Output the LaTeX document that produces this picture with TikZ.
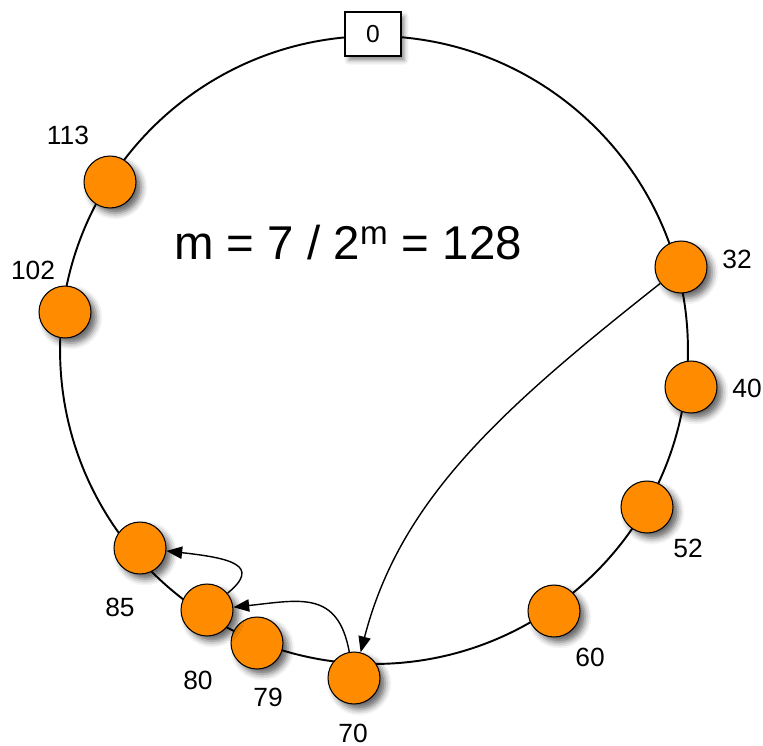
\documentclass[tikz,border=0pt]{standalone}
\usepackage{fontspec}
\setmainfont{Liberation Sans}
\usepackage{tikz}
\usetikzlibrary{arrows.meta,shadows.blur}
\usepackage{xcolor}
\definecolor{PeerOrange}{HTML}{FF8C00}
\tikzset{
 ring/.style={draw=black, line width=1.1pt},
 peer/.style={circle, draw=black, line width=0.6pt, fill=PeerOrange, minimum size=1.04cm, inner sep=0pt,
   blur shadow={shadow xshift=3pt, shadow yshift=-3pt, shadow blur radius=3.5pt, shadow opacity=60}},
 idlabel/.style={font=\fontsize{15}{17}\selectfont, inner sep=0pt},
 zerobox/.style={draw=black, line width=0.9pt, fill=white, minimum width=1.12cm, minimum height=0.88cm,
   font=\fontsize{14}{16}\selectfont, blur shadow={shadow xshift=2pt, shadow yshift=-2.5pt, shadow blur radius=2.5pt, shadow opacity=45}},
 hop/.style={-{Triangle[length=9pt,width=7pt]}, line width=0.8pt, draw=black}
}
\begin{document}
\begin{tikzpicture}[x=0.02cm,y=-0.02cm]
\useasboundingbox (0,0) rectangle (763,745);
\draw[ring] (374,350) circle [radius=6.28cm];
\node[zerobox] (n0) at (373,34) {0};
\node[peer] (n113) at (110,182) {};
\node[peer] (n102) at (65,312) {};
\node[peer] (n32) at (681,267) {};
\node[peer] (n40) at (691,387) {};
\node[peer] (n52) at (647,507) {};
\node[peer] (n60) at (554,611) {};
\node[peer] (n70) at (354,678) {};
\node[peer] (n79) at (257,643) {};
\node[peer] (n80) at (207,610) {};
\node[peer] (n85) at (140,548) {};
\node[idlabel] (l113) at (68,135) {113};
\node[idlabel] (l102) at (33,270) {102};
\node[idlabel] (l32) at (737,259) {32};
\node[idlabel] (l40) at (747,388) {40};
\node[idlabel] (l52) at (688,548) {52};
\node[idlabel] (l60) at (590,657) {60};
\node[idlabel] (l70) at (353,733) {70};
\node[idlabel] (l79) at (268,697) {79};
\node[idlabel] (l80) at (198,680) {80};
\node[idlabel] (l85) at (120,607) {85};
\node[font=\fontsize{27}{31}\selectfont, inner sep=0pt] (title) at (348,243) {m = 7 / 2\textsuperscript{m} = 128};
\draw[hop] (n32) .. controls (500,410) and (400,500) .. (n70);
\draw[hop] (n70) .. controls (338,590) and (300,600) .. (n80);
\draw[hop] (n80) .. controls (262,565) and (230,558) .. (n85);
\end{tikzpicture}
\end{document}
